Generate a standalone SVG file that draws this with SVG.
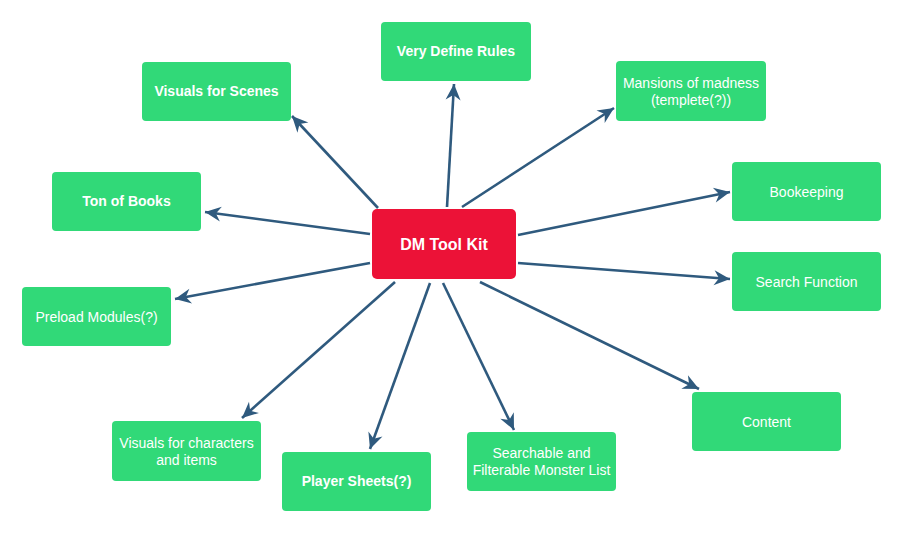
<svg xmlns="http://www.w3.org/2000/svg" width="903" height="533" viewBox="0 0 903 533">
<style>
.n{fill:#31d978;}
.c{fill:#ec1237;}
text{font-family:"Liberation Sans",Arial,sans-serif;font-size:14px;fill:#fff;text-anchor:middle;}
.b{font-weight:bold;}
.e line{stroke:#2f5a7e;stroke-width:2.6;marker-end:url(#ah);}
</style>
<defs>
<marker id="ah" markerUnits="userSpaceOnUse" markerWidth="20" markerHeight="20" viewBox="-18 -9 20 18" refX="0" refY="0" orient="auto">
<path d="M0,0 L-16,-7.5 L-11,0 L-16,7.5 Z" fill="#2f5a7e"/>
</marker>
</defs>
<rect width="903" height="533" fill="#fff"/>
<g class="e" id="connectors">
<line x1="447" y1="207" x2="454" y2="84"/>
<line x1="378" y1="208" x2="292" y2="116"/>
<line x1="462" y1="207" x2="614" y2="108"/>
<line x1="370" y1="234" x2="205" y2="212"/>
<line x1="518" y1="235" x2="730" y2="192"/>
<line x1="518" y1="263" x2="730" y2="279"/>
<line x1="370" y1="263" x2="175" y2="299"/>
<line x1="395" y1="282" x2="242" y2="418"/>
<line x1="430" y1="283" x2="370" y2="449"/>
<line x1="443" y1="283" x2="514" y2="430"/>
<line x1="480" y1="282" x2="699" y2="389"/>
</g>
<g id="center"><rect class="c" x="372" y="209" width="144" height="70" rx="5"/><text class="b" x="444" y="250" style="font-size:16px">DM Tool Kit</text></g>
<g id="rules"><rect class="n" x="381" y="22" width="150" height="59" rx="4"/><text class="b" x="456" y="56">Very Define Rules</text></g>
<g id="scenes"><rect class="n" x="142" y="62" width="149" height="59" rx="4"/><text class="b" x="216.5" y="96">Visuals for Scenes</text></g>
<g id="mansions"><rect class="n" x="616" y="61" width="150" height="60" rx="4"/><text x="691" y="88">Mansions of madness</text><text x="691" y="105">(templete(?))</text></g>
<g id="books"><rect class="n" x="52" y="172" width="149" height="59" rx="4"/><text class="b" x="126.5" y="206">Ton of Books</text></g>
<g id="bookkeeping"><rect class="n" x="732" y="162" width="149" height="59" rx="4"/><text x="806.5" y="197">Bookeeping</text></g>
<g id="search"><rect class="n" x="732" y="252" width="149" height="59" rx="4"/><text x="806.5" y="287">Search Function</text></g>
<g id="preload"><rect class="n" x="22" y="287" width="149" height="59" rx="4"/><text x="96.5" y="322">Preload Modules(?)</text></g>
<g id="chars"><rect class="n" x="112" y="421" width="149" height="60" rx="4"/><text x="186.5" y="448">Visuals for characters</text><text x="186.5" y="465">and items</text></g>
<g id="players"><rect class="n" x="282" y="452" width="149" height="59" rx="4"/><text class="b" x="356.5" y="486">Player Sheets(?)</text></g>
<g id="monsters"><rect class="n" x="467" y="432" width="149" height="59" rx="4"/><text x="541.5" y="458">Searchable and</text><text x="541.5" y="475">Filterable Monster List</text></g>
<g id="content"><rect class="n" x="692" y="392" width="149" height="59" rx="4"/><text x="766.5" y="427">Content</text></g>
</svg>
